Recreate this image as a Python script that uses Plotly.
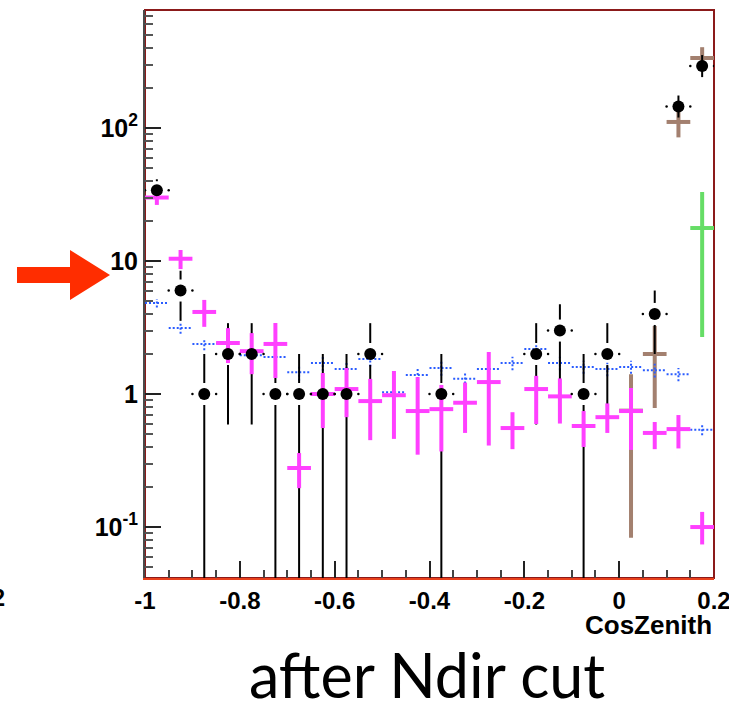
import plotly.graph_objects as go

# ---------------- data ----------------
bin_centers = [-0.975, -0.925, -0.875, -0.825, -0.775, -0.725, -0.675, -0.625,
               -0.575, -0.525, -0.475, -0.425, -0.375, -0.325, -0.275, -0.225,
               -0.175, -0.125, -0.075, -0.025, 0.025, 0.075, 0.125, 0.175]
half_width = 0.025

# observed data (black points), Poisson errors
data_counts = [34, 6, 1, 2, 2, 1, 1, 1, 1, 2, None, None, 1, None, None, None,
               2, 3, 1, 2, None, 4, 145, 292]
data_err = [5.8, 2.45, 1, 1.41, 1.41, 1, 1, 1, 1, 1.41, None, None, 1, None, None, None,
            1.41, 1.73, 1, 1.41, None, 2, 12, 17]

# magenta MC
mag_val = [30, 10.4, 4.14, 2.42, 2.1, 2.38, 0.278, 1.0, 1.09, 0.885, 0.98, 0.745,
           0.77, 0.86, 1.23, 0.555, 1.09, 0.96, 0.575, 0.67, 0.745, 0.51, 0.545, 0.1]
mag_lo = [26.4, 8.7, 3.2, 1.71, 1.41, 1.32, 0.196, 0.555, 0.67, 0.45, 0.46, 0.35,
          0.37, 0.51, 0.41, 0.385, 0.595, 0.6, 0.4, 0.51, 0.38, 0.385, 0.39, 0.074]
mag_hi = [34, 12.1, 5.1, 3.13, 2.87, 3.42, 0.36, 1.44, 1.57, 1.3, 1.49, 1.34,
          1.17, 1.22, 2.07, 0.73, 1.37, 1.31, 0.745, 0.85, 1.11, 0.616, 0.695, 0.13]

# blue dotted MC
blue_val = [4.83, 3.14, 2.38, 2.4, 1.96, 1.9, 1.46, 1.71, 1.54, 1.83, 1.03, 1.39,
            1.57, 1.30, 1.54, 1.71, 2.18, 1.71, 1.6, 1.54, 1.6, 1.51, 1.41, 0.54]
blue_err = [0.35, 0.3, 0.25, 0.25, 0.22, 0.22, 0.2, 0.22, 0.2, 0.22, 0.15, 0.18,
            0.2, 0.18, 0.2, 0.2, 0.22, 0.2, 0.18, 0.18, 0.18, 0.18, 0.16, 0.05]

# brown MC
brown_val = [None] * 20 + [0.75, 2.0, 111, 336]
brown_lo = [None] * 20 + [0.083, 0.785, 85, 280]
brown_hi = [None] * 20 + [1.41, 3.25, 133, 405]

# green MC
green_val = [None] * 23 + [17.7]
green_lo = [None] * 23 + [2.68]
green_hi = [None] * 23 + [33]

y_tickvals = [0.1, 1, 10, 100]
y_ticktext = ["10<sup>-1</sup>", "1", "10", "10<sup>2</sup>"]
x_tickvals = [-1, -0.8, -0.6, -0.4, -0.2, 0, 0.2]
x_ticktext = ["-1", "-0.8", "-0.6", "-0.4", "-0.2", "0", "0.2"]

# ---------------- geometry helpers (style) ----------------
W, H = 729, 701
L, R, T, B = 145, 714, 10, 578


def px(x):
    return (x - L) / (R - L)


def py(y):
    return (B - y) / (B - T)


def cross_segments(vals, lo, hi):
    xs, ys = [], []
    for c, v, a, b in zip(bin_centers, vals, lo, hi):
        if v is None:
            continue
        xs += [c - half_width, c + half_width, None, c, c, None]
        ys += [v, v, None, a, b, None]
    return xs, ys


fig = go.Figure()

# brown
bx, by = cross_segments(brown_val, brown_lo, brown_hi)
fig.add_trace(go.Scatter(x=bx, y=by, mode="lines", line=dict(color="#a3806f", width=4),
                         hoverinfo="skip", showlegend=False))

# blue dotted
bl_lo = [v - e for v, e in zip(blue_val, blue_err)]
bl_hi = [v + e for v, e in zip(blue_val, blue_err)]
ux, uy = cross_segments(blue_val, bl_lo, bl_hi)
fig.add_trace(go.Scatter(x=ux, y=uy, mode="lines",
                         line=dict(color="#2a5cff", width=2, dash="2px,2px"),
                         hoverinfo="skip", showlegend=False))

# black error bars with gap around marker
gap = 1.21
kx, ky = [], []
for c, v, e in zip(bin_centers, data_counts, data_err):
    if v is None:
        continue
    lo = v - e if v - e > 0 else 1e-4
    kx += [c, c, None, c, c, None]
    ky += [v * gap, v + e, None, v / gap, lo, None]
fig.add_trace(go.Scatter(x=kx, y=ky, mode="lines", line=dict(color="black", width=2),
                         hoverinfo="skip", showlegend=False))

# magenta
mx, my = cross_segments(mag_val, mag_lo, mag_hi)
fig.add_trace(go.Scatter(x=mx, y=my, mode="lines", line=dict(color="#ff40ff", width=4),
                         hoverinfo="skip", showlegend=False))

# green
gx, gy = cross_segments(green_val, green_lo, green_hi)
fig.add_trace(go.Scatter(x=gx, y=gy, mode="lines", line=dict(color="#66dd66", width=4),
                         hoverinfo="skip", showlegend=False))

# black markers
dcx = [c for c, v in zip(bin_centers, data_counts) if v is not None]
dcy = [v for v in data_counts if v is not None]
fig.add_trace(go.Scatter(x=dcx, y=dcy, mode="markers",
                         marker=dict(color="black", size=12, symbol="circle"),
                         hoverinfo="skip", showlegend=False, cliponaxis=False))
# tiny end dots of horizontal error
ex = [c + s * half_width for c in dcx for s in (-1, 1)]
ey = [v for v in dcy for s in (-1, 1)]
fig.add_trace(go.Scatter(x=ex, y=ey, mode="markers",
                         marker=dict(color="black", size=2.5),
                         hoverinfo="skip", showlegend=False))

minor_y = [m * 10 ** k for k in range(-2, 3) for m in range(2, 10)]

fig.update_layout(
    width=W, height=H,
    margin=dict(l=L, r=W - R, t=T, b=H - B, autoexpand=False),
    paper_bgcolor="white", plot_bgcolor="white",
    showlegend=False,
    xaxis=dict(range=[-1, 0.2000001], showgrid=False, zeroline=False, automargin=False,
               showline=True, linecolor="#e8401c", linewidth=2,
               ticks="inside", ticklen=17, tickwidth=1.5, tickcolor="#222",
               tickvals=x_tickvals, ticktext=x_ticktext,
               ticklabeloverflow="allow",
               tickfont=dict(family="Liberation Sans", size=24, color="black", weight="bold"),
               minor=dict(dtick=0.05, ticks="inside", ticklen=8, tickwidth=1.5,
                          tickcolor="#444", showgrid=False)),
    yaxis=dict(type="log", range=[-1.383, 2.887], showgrid=False, zeroline=False,
               automargin=False,
               showline=True, linecolor="#4a4a4a", linewidth=2,
               ticks="inside", ticklen=16, tickwidth=1.5, tickcolor="#222",
               tickvals=y_tickvals, ticktext=y_ticktext,
               tickfont=dict(family="Liberation Sans", size=25, color="black", weight="bold"),
               minor=dict(tickvals=minor_y, ticks="inside", ticklen=8, tickwidth=1.5,
                          tickcolor="#555", showgrid=False)),
)

# frame (top/right)
fig.add_shape(type="rect", xref="paper", yref="paper", x0=0, x1=1, y0=0, y1=1,
              line=dict(color="#8b1a1a", width=2), layer="below")

# red arrow
pts = [(17, 267), (70, 267), (70, 250), (110, 275), (70, 300), (70, 283), (17, 283)]
path = "M " + " L ".join(f"{px(a):.5f},{py(b):.5f}" for a, b in pts) + " Z"
fig.add_shape(type="path", xref="paper", yref="paper", path=path,
              fillcolor="#ff2d00", line=dict(color="#ff2d00", width=0))

# axis title
fig.add_annotation(text="<b>CosZenith</b>", xref="paper", yref="paper",
                   x=px(714), y=py(625), xanchor="right", yanchor="middle",
                   showarrow=False, font=dict(family="Liberation Sans", size=26, color="black"))

# fragment of neighbouring panel's label
fig.add_annotation(text="<b>0.2</b>", xref="paper", yref="paper",
                   x=px(7), y=py(598), xanchor="right", yanchor="middle",
                   showarrow=False, font=dict(family="Liberation Sans", size=23, color="black"))

# caption
fig.add_annotation(text="after Ndir cut", xref="paper", yref="paper",
                   x=px(427), y=py(674), xanchor="center", yanchor="middle",
                   showarrow=False, font=dict(family="Lato", size=61, color="black"))

fig.write_html("out.html")
